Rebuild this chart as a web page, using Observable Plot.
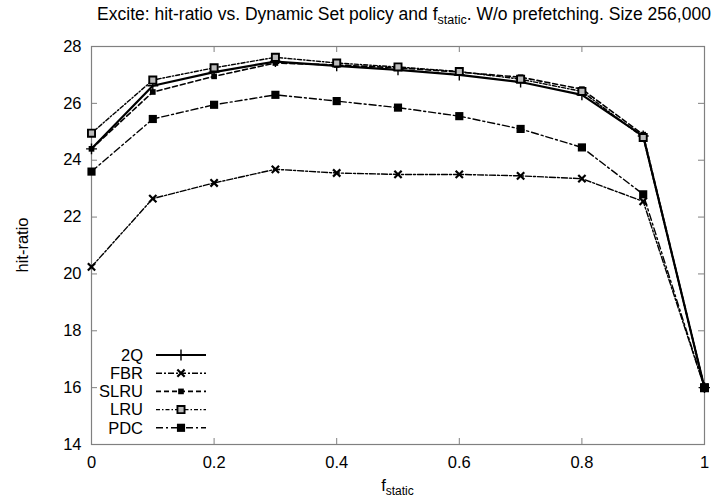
<!DOCTYPE html>
<html><head><meta charset="utf-8">
<script src="https://cdn.jsdelivr.net/npm/d3@7"></script>
<script src="https://cdn.jsdelivr.net/npm/@observablehq/plot@0.6"></script>
<style>body{margin:0;background:#fff;font-family:"Liberation Sans",Arial,sans-serif}</style>
</head><body><div id="chart"></div>
<script>
const fStatic = [0, 0.1, 0.2, 0.3, 0.4, 0.5, 0.6, 0.7, 0.8, 0.9, 1];
const q2   = [24.40, 26.62, 27.10, 27.47, 27.32, 27.18, 27.00, 26.75, 26.30, 24.85, 16.0];
const fbr  = [20.25, 22.65, 23.20, 23.68, 23.55, 23.50, 23.50, 23.45, 23.35, 22.55, 16.0];
const slru = [24.40, 26.40, 26.95, 27.42, 27.35, 27.25, 27.10, 26.92, 26.50, 24.90, 16.0];
const lru  = [24.95, 26.82, 27.25, 27.62, 27.42, 27.28, 27.12, 26.85, 26.42, 24.80, 16.0];
const pdc  = [23.60, 25.45, 25.95, 26.30, 26.08, 25.85, 25.55, 25.10, 24.45, 22.80, 16.0];
const xTicks = [0, 0.2, 0.4, 0.6, 0.8, 1];
const yTicks = [14, 16, 18, 20, 22, 24, 26, 28];
const seriesNames = ["2Q", "FBR", "SLRU", "LRU", "PDC"];

const values = {"2Q": q2, "FBR": fbr, "SLRU": slru, "LRU": lru, "PDC": pdc};
const styles = {
  "2Q":   {w: 2.2, dash: null,        symbol: "plus",   r: 3.6, fill: "none",  stroke: "black", sw: 1.4},
  "FBR":  {w: 1.4, dash: "6 2 2 2",   symbol: "times",  r: 3.4, fill: "none",  stroke: "black", sw: 2.2},
  "SLRU": {w: 1.6, dash: "5 3",       symbol: "square", r: 3.2, fill: "black", stroke: "none",  sw: 1},
  "LRU":  {w: 1.4, dash: "4 2 1.5 2", symbol: "square", r: 4.0, fill: "#bbbbbb", stroke: "black", sw: 1.9},
  "PDC":  {w: 1.4, dash: "7 3 2 3",   symbol: "square", r: 4.6, fill: "black", stroke: "none",  sw: 1}
};
const data = seriesNames.flatMap(s => fStatic.map((f, i) => ({series: s, f, v: values[s][i]})));

const W = 721, H = 504, mL = 91, mR = 17, mT = 46, mB = 60;
const fw = W - mL - mR, fh = H - mT - mB, tk = 6;
const grey = "#808080";
const fs = 16.5;

const marks = [
  Plot.frame({stroke: grey, strokeWidth: 1.2}),
  Plot.tickX(xTicks, {x: d => d, stroke: grey, insetTop: fh - tk}),
  Plot.tickX(xTicks, {x: d => d, stroke: grey, insetBottom: fh - tk}),
  Plot.tickY(yTicks, {y: d => d, stroke: grey, insetRight: fw - tk}),
  Plot.tickY(yTicks, {y: d => d, stroke: grey, insetLeft: fw - tk}),
  Plot.axisX(xTicks, {tickSize: 0, tickPadding: 12, fontSize: fs, label: null, tickFormat: d => String(d)}),
  Plot.axisY(yTicks, {tickSize: 0, tickPadding: 10, fontSize: fs, label: null})
];
for (const s of seriesNames) {
  const st = styles[s];
  const d = data.filter(r => r.series === s);
  marks.push(Plot.line(d, {x: "f", y: "v", stroke: "black", strokeWidth: st.w, strokeDasharray: st.dash}));
}
for (const s of seriesNames) {
  const st = styles[s];
  const d = data.filter(r => r.series === s);
  marks.push(Plot.dot(d, {x: "f", y: "v", symbol: st.symbol, r: st.r, fill: st.fill, stroke: st.stroke, strokeWidth: st.sw}));
}

const chart = Plot.plot({
  width: W, height: H,
  marginLeft: mL, marginRight: mR, marginTop: mT, marginBottom: mB,
  style: {fontFamily: "'Liberation Sans', Arial, sans-serif", fontSize: fs + "px", color: "black", background: "white"},
  x: {domain: [0, 1]},
  y: {domain: [14, 28]},
  marks
});

const svg = d3.select(chart);
const font = "'Liberation Sans', Arial, sans-serif";
// title
const t = svg.append("text").attr("x", 404).attr("y", 20).attr("text-anchor", "middle")
  .attr("font-family", font).attr("font-size", 17.5).attr("fill", "black");
t.append("tspan").text("Excite: hit-ratio vs. Dynamic Set policy and f");
t.append("tspan").attr("dy", 4).attr("font-size", 12.5).text("static");
t.append("tspan").attr("dy", -4).text(". W/o prefetching. Size 256,000");
// x label
const xl = svg.append("text").attr("x", mL + fw / 2).attr("y", 491).attr("text-anchor", "middle")
  .attr("font-family", font).attr("font-size", fs).attr("fill", "black");
xl.append("tspan").text("f");
xl.append("tspan").attr("dy", 4).attr("font-size", 12).text("static");
// y label
svg.append("text").attr("transform", `translate(28,${mT + fh / 2}) rotate(-90)`).attr("text-anchor", "middle")
  .attr("font-family", font).attr("font-size", fs).attr("fill", "black").text("hit-ratio");
// legend
const lg = svg.append("g");
seriesNames.forEach((s, i) => {
  const st = styles[s];
  const y = 355 + i * 18.2;
  lg.append("text").attr("x", 143).attr("y", y).attr("dy", "0.35em").attr("text-anchor", "end")
    .attr("font-family", font).attr("font-size", fs).attr("fill", "black").text(s);
  lg.append("line").attr("x1", 156).attr("x2", 206).attr("y1", y).attr("y2", y)
    .attr("stroke", "black").attr("stroke-width", st.w).attr("stroke-dasharray", st.dash);
  const sym = {plus: d3.symbolPlus, times: d3.symbolTimes, square: d3.symbolSquare}[st.symbol];
  lg.append("path").attr("transform", `translate(181,${y})`)
    .attr("d", d3.symbol(sym, st.r * st.r * Math.PI)())
    .attr("fill", st.fill).attr("stroke", st.stroke).attr("stroke-width", st.sw);
});

document.getElementById("chart").appendChild(chart);
</script>
</body></html>
